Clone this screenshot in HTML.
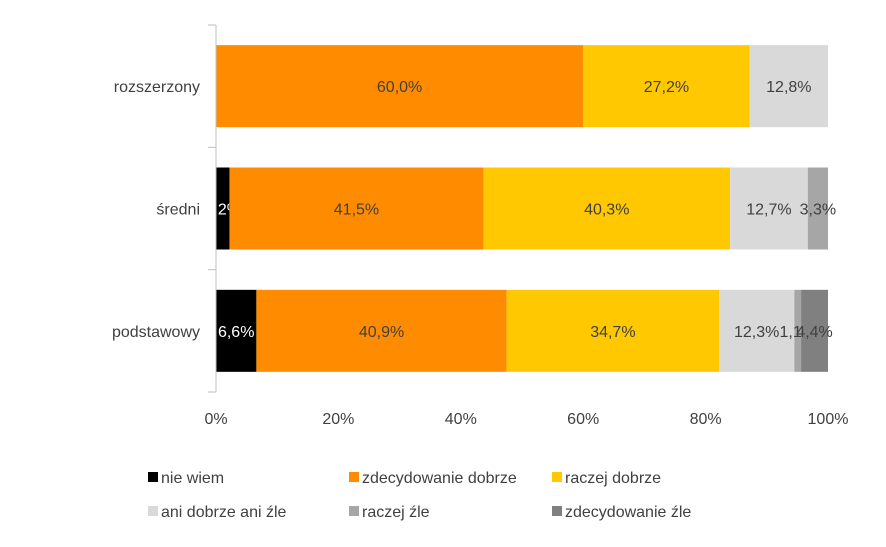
<!DOCTYPE html>
<html><head><meta charset="utf-8"><style>
body{margin:0;background:#fff;font-family:"Liberation Sans",sans-serif;}
svg text{font-family:"Liberation Sans",sans-serif;}
</style></head><body>
<svg id="c" width="886" height="542" xmlns="http://www.w3.org/2000/svg"></svg>
<script>
const categories=["rozszerzony","średni","podstawowy"];
const seriesNames=["nie wiem","zdecydowanie dobrze","raczej dobrze","ani dobrze ani źle","raczej źle","zdecydowanie źle"];
const nieWiem=[0,2.2,6.6];
const zdecDobrze=[60.0,41.5,40.9];
const raczejDobrze=[27.2,40.3,34.7];
const aniAni=[12.8,12.7,12.3];
const raczejZle=[0,3.3,1.1];
const zdecZle=[0,0,4.4];
const ticks=[0,20,40,60,80,100];
const colors=["#000000","#FF8C00","#FFC800","#D9D9D9","#A6A6A6","#808080"];
const series=[nieWiem,zdecDobrze,raczejDobrze,aniAni,raczejZle,zdecZle];
const NS="http://www.w3.org/2000/svg";
const svg=document.getElementById("c");
const x0=216,x1=828,yTop=25,yBot=392;
const xs=v=>x0+(x1-x0)*v/100;
const band=(yBot-yTop)/categories.length;
const ys=i=>yTop+band*i+(band-82)/2;
function mk(t,a){const e=document.createElementNS(NS,t);for(const k in a)e.setAttribute(k,a[k]);svg.appendChild(e);return e;}
const fmt=v=>v.toFixed(1).replace(".",",")+"%";
categories.forEach((c,i)=>{
  let acc=0;
  series.forEach((s,j)=>{
    const v=s[i];if(v<=0)return;
    const r=mk("rect",{x:xs(acc),y:ys(i),width:xs(acc+v)-xs(acc),height:82,fill:colors[j]});
    
    
    const t=mk("text",{x:(xs(acc)+xs(acc+v))/2,y:ys(i)+47,"text-anchor":"middle","font-size":16,fill:j==0?"#fff":"#404040"});
    t.textContent=fmt(v);
    
    
    acc+=v;
  });
  const l=mk("text",{x:200,y:ys(i)+47,"text-anchor":"end","font-size":16,fill:"#404040"});
  l.textContent=c;
  
  
});
const ax=mk("line",{x1:x0,y1:yTop,x2:x0,y2:yBot,stroke:"#bfbfbf"});


for(let i=0;i<=categories.length;i++){
  const y=yTop+band*i;
  const tk=mk("line",{x1:x0-8,y1:y,x2:x0,y2:y,stroke:"#bfbfbf"});
  
  
}
ticks.forEach(v=>{
  const t=mk("text",{x:xs(v),y:424,"text-anchor":"middle","font-size":16,fill:"#404040"});
  t.textContent=v+"%";
  
  
});
const lx=[148,349,552],ly=[483,517];
seriesNames.forEach((n,j)=>{
  const x=lx[j%3],y=ly[Math.floor(j/3)];
  const g=document.createElementNS(NS,"g");svg.appendChild(g);
  
  
  const r=document.createElementNS(NS,"rect");
  r.setAttribute("x",x);r.setAttribute("y",y-11);r.setAttribute("width",10);r.setAttribute("height",10);r.setAttribute("fill",colors[j]);
  g.appendChild(r);
  const t=document.createElementNS(NS,"text");
  t.setAttribute("x",x+13);t.setAttribute("y",y);t.setAttribute("font-size",16);t.setAttribute("fill","#404040");
  t.textContent=n;g.appendChild(t);
});
</script>
</body></html>
